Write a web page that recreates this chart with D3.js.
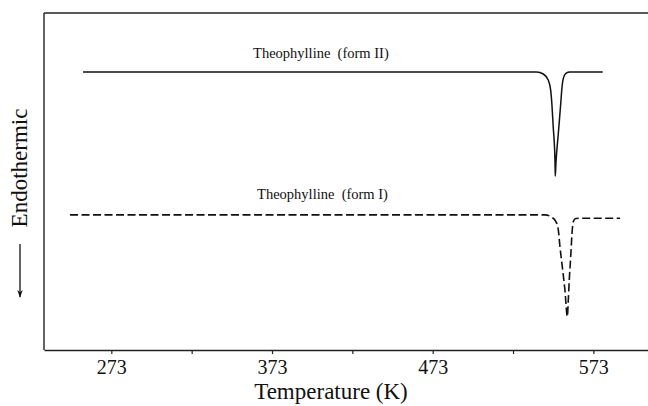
<!DOCTYPE html>
<html>
<head>
<meta charset="utf-8">
<script src="https://cdn.jsdelivr.net/npm/d3@7/dist/d3.min.js"></script>
<style>
  html, body { margin: 0; padding: 0; background: #fff; }
  svg { display: block; }
  text { font-family: "Liberation Serif", "Times New Roman", serif; fill: #111; }
</style>
</head>
<body>
<svg id="chart" width="648" height="406"></svg>
<script>
// DSC traces of theophylline polymorphs (arbitrary heat-flow units, offset per trace)
const formIITemp = [255.4, 537.7, 541.8, 544.9, 546.4, 547.0, 548.0, 549.1, 549.3,
                    549.7, 551.2, 552.7, 553.5, 554.3, 555.9, 558.4, 578.8];
const formIIFlow = [8.25, 8.25, 8.19, 8.01, 7.72, 7.42, 6.63, 5.64, 5.16,
                    5.54, 6.43, 7.32, 7.81, 8.06, 8.21, 8.25, 8.25];

const formITemp = [247.3, 542.9, 547.0, 549.7, 551.2, 552.2, 553.9, 555.3, 556.8,
                   557.4, 558.0, 558.9, 559.7, 560.5, 562.0, 564.7, 589.6];
const formIFlow = [4.01, 4.01, 3.94, 3.81, 3.56, 3.07, 2.37, 1.78, 0.99,
                   1.48, 2.08, 2.77, 3.46, 3.81, 3.90, 3.91, 3.91];

const seriesNames = ["Theophylline  (form II)", "Theophylline  (form I)"];
const tickTemps = [273, 323, 373, 423, 473, 523, 573];
const labelledTicks = [273, 373, 473, 573];

const svg = d3.select("#chart");
const plot = { left: 44, right: 648, top: 13, bottom: 350 };

const x = d3.scaleLinear().domain([231.1, 607]).range([plot.left, plot.right]);
const y = d3.scaleLinear().domain([0, 10]).range([plot.bottom, plot.top]);

// frame: top and left edges
svg.append("line")
  .attr("x1", plot.left).attr("x2", plot.right)
  .attr("y1", plot.top).attr("y2", plot.top)
  .attr("stroke", "#222").attr("stroke-width", 1.4);
svg.append("line")
  .attr("x1", plot.left).attr("x2", plot.left)
  .attr("y1", plot.top).attr("y2", plot.bottom)
  .attr("stroke", "#222").attr("stroke-width", 1.4);

// temperature axis
const xAxis = d3.axisBottom(x)
  .tickValues(tickTemps)
  .tickSize(4)
  .tickSizeOuter(0)
  .tickPadding(6)
  .tickFormat(d => labelledTicks.includes(d) ? String(d) : "");

const gx = svg.append("g")
  .attr("transform", `translate(0,${plot.bottom})`)
  .call(xAxis);
gx.select(".domain").attr("stroke", "#222").attr("stroke-width", 1.6);
gx.selectAll(".tick line").attr("stroke", "#222").attr("stroke-width", 1.2);
gx.selectAll(".tick text")
  .style("font-family", '"Liberation Serif", serif')
  .style("font-size", "20px")
  .attr("fill", "#111");

svg.append("text")
  .attr("x", 331)
  .attr("y", 399)
  .attr("text-anchor", "middle")
  .style("font-size", "23px")
  .text("Temperature (K)");

// y label with downward arrow
svg.append("text")
  .attr("transform", "translate(27,168) rotate(-90)")
  .attr("text-anchor", "middle")
  .style("font-size", "23px")
  .text("Endothermic");

svg.append("defs").append("marker")
  .attr("id", "arrowhead")
  .attr("viewBox", "0 0 10 10")
  .attr("refX", 9).attr("refY", 5)
  .attr("markerWidth", 6).attr("markerHeight", 6)
  .attr("orient", "auto")
  .append("path")
  .attr("d", "M0,1.5 L10,5 L0,8.5 L3,5 Z")
  .attr("fill", "#111");

svg.append("line")
  .attr("x1", 20).attr("x2", 20)
  .attr("y1", 244).attr("y2", 297)
  .attr("stroke", "#111").attr("stroke-width", 1.3)
  .attr("marker-end", "url(#arrowhead)");

// traces
const line = d3.line()
  .x(d => x(d[0]))
  .y(d => y(d[1]))
  .curve(d3.curveMonotoneX);

const formII = formIITemp.map((t, i) => [t, formIIFlow[i]]);
const formI = formITemp.map((t, i) => [t, formIFlow[i]]);

svg.append("path")
  .datum(formII)
  .attr("d", line)
  .attr("fill", "none")
  .attr("stroke", "#111")
  .attr("stroke-width", 1.5);

svg.append("path")
  .datum(formI)
  .attr("d", line)
  .attr("fill", "none")
  .attr("stroke", "#111")
  .attr("stroke-width", 1.6)
  .attr("stroke-dasharray", "8,3.5");

// trace labels, placed in data units
svg.append("text")
  .attr("x", x(361.2)).attr("y", y(8.66))
  .style("font-size", "14.5px")
  .style("white-space", "pre")
  .text(seriesNames[0]);
svg.append("text")
  .attr("x", x(363.7)).attr("y", y(4.48))
  .style("font-size", "14.5px")
  .style("white-space", "pre")
  .text(seriesNames[1]);
</script>
</body>
</html>
